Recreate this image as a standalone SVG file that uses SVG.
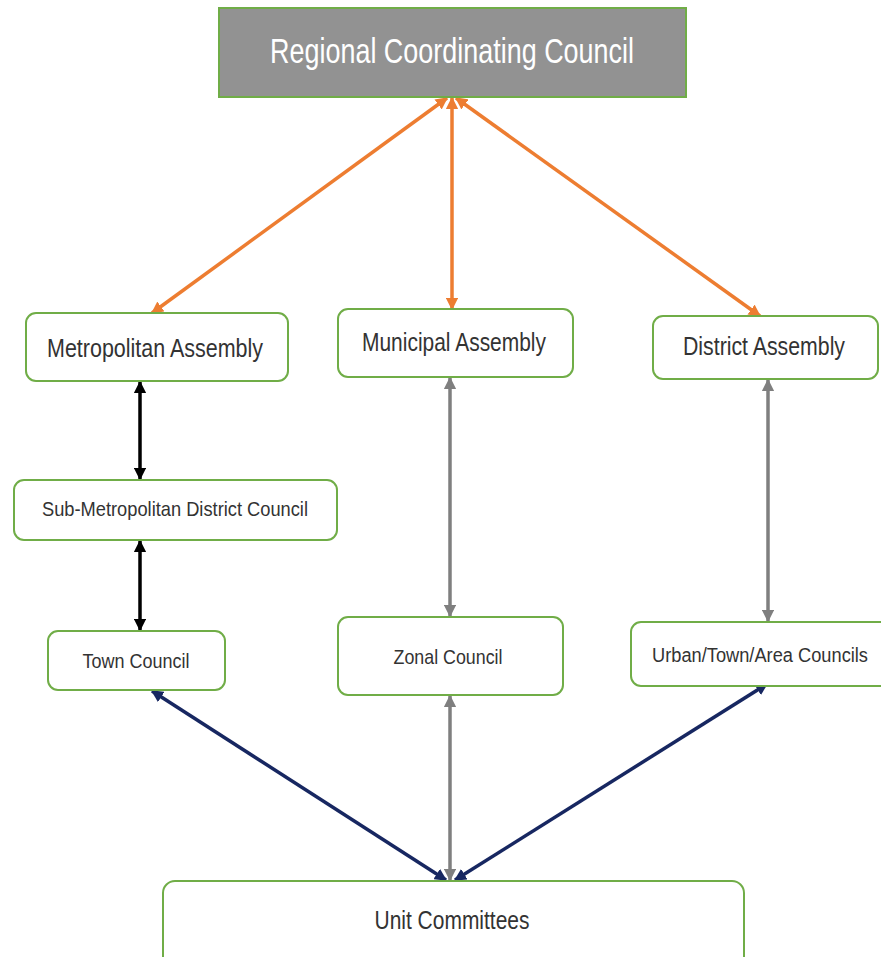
<svg xmlns="http://www.w3.org/2000/svg" width="881" height="957" viewBox="0 0 881 957">
<style>
.box{fill:#fff;stroke:#70AD47;stroke-width:2}
.t{font-family:"Liberation Sans",Arial,sans-serif;fill:#333;text-anchor:middle}
.or{stroke:#ED7D31;stroke-width:3.5;fill:none}
.bk{stroke:#000;stroke-width:3.5;fill:none}
.gr{stroke:#7F7F7F;stroke-width:3.5;fill:none}
.nv{stroke:#172761;stroke-width:3.5;fill:none}
</style>
<defs>
<marker id="ao" viewBox="0 0 10 10" refX="9" refY="5" markerWidth="3.5" markerHeight="3.5" orient="auto-start-reverse"><path d="M0,0L10,5L0,10z" fill="#ED7D31"/></marker>
<marker id="ab" viewBox="0 0 10 10" refX="9" refY="5" markerWidth="3.5" markerHeight="3.5" orient="auto-start-reverse"><path d="M0,0L10,5L0,10z" fill="#000"/></marker>
<marker id="ag" viewBox="0 0 10 10" refX="9" refY="5" markerWidth="3.5" markerHeight="3.5" orient="auto-start-reverse"><path d="M0,0L10,5L0,10z" fill="#7F7F7F"/></marker>
<marker id="an" viewBox="0 0 10 10" refX="9" refY="5" markerWidth="3.5" markerHeight="3.5" orient="auto-start-reverse"><path d="M0,0L10,5L0,10z" fill="#172761"/></marker>
</defs>
<rect width="881" height="957" fill="#fff"/>
<g id="connectors">
<line class="or" x1="447" y1="98" x2="152" y2="313" marker-start="url(#ao)" marker-end="url(#ao)"/>
<line class="or" x1="452" y1="98" x2="452" y2="309" marker-start="url(#ao)" marker-end="url(#ao)"/>
<line class="or" x1="456" y1="98" x2="760" y2="316" marker-start="url(#ao)" marker-end="url(#ao)"/>
<line class="bk" x1="140" y1="382" x2="140" y2="479" marker-start="url(#ab)" marker-end="url(#ab)"/>
<line class="bk" x1="140" y1="541" x2="140" y2="630" marker-start="url(#ab)" marker-end="url(#ab)"/>
<line class="gr" x1="450" y1="378" x2="450" y2="616" marker-start="url(#ag)" marker-end="url(#ag)"/>
<line class="gr" x1="768" y1="380" x2="768" y2="621" marker-start="url(#ag)" marker-end="url(#ag)"/>
<line class="gr" x1="450" y1="696" x2="450" y2="880" marker-start="url(#ag)" marker-end="url(#ag)"/>
<line class="nv" x1="152" y1="691" x2="446" y2="880" marker-start="url(#an)" marker-end="url(#an)"/>
<line class="nv" x1="767" y1="684" x2="455" y2="880" marker-start="url(#an)" marker-end="url(#an)"/>
</g>
<g id="rcc">
<rect x="219" y="8" width="467" height="89" fill="#929292" stroke="#70AD47" stroke-width="2"/>
<text class="t" x="452" y="63" font-size="35" style="fill:#fff" textLength="364" lengthAdjust="spacingAndGlyphs">Regional Coordinating Council</text>
</g>
<g id="metro">
<rect class="box" x="26" y="313" width="262" height="68" rx="10"/>
<text class="t" x="155" y="357" font-size="26" textLength="216" lengthAdjust="spacingAndGlyphs">Metropolitan Assembly</text>
</g>
<g id="municipal">
<rect class="box" x="338" y="309" width="235" height="68" rx="10"/>
<text class="t" x="454" y="351" font-size="26" textLength="184" lengthAdjust="spacingAndGlyphs">Municipal Assembly</text>
</g>
<g id="district">
<rect class="box" x="653" y="316" width="225" height="63" rx="10"/>
<text class="t" x="764" y="355" font-size="26" textLength="162" lengthAdjust="spacingAndGlyphs">District Assembly</text>
</g>
<g id="submetro">
<rect class="box" x="14" y="480" width="323" height="60" rx="10"/>
<text class="t" x="175" y="516" font-size="21" textLength="266" lengthAdjust="spacingAndGlyphs">Sub-Metropolitan District Council</text>
</g>
<g id="town">
<rect class="box" x="48" y="631" width="177" height="59" rx="10"/>
<text class="t" x="136" y="668" font-size="20" textLength="107" lengthAdjust="spacingAndGlyphs">Town Council</text>
</g>
<g id="zonal">
<rect class="box" x="338" y="617" width="225" height="78" rx="10"/>
<text class="t" x="448" y="664" font-size="21" textLength="109" lengthAdjust="spacingAndGlyphs">Zonal Council</text>
</g>
<g id="urban">
<rect class="box" x="631" y="622" width="260" height="64" rx="10"/>
<text class="t" x="760" y="662" font-size="20" textLength="216" lengthAdjust="spacingAndGlyphs">Urban/Town/Area Councils</text>
</g>
<g id="unit">
<rect class="box" x="163" y="881" width="581" height="90" rx="12"/>
<text class="t" x="452" y="929" font-size="26" textLength="155" lengthAdjust="spacingAndGlyphs">Unit Committees</text>
</g>
</svg>
